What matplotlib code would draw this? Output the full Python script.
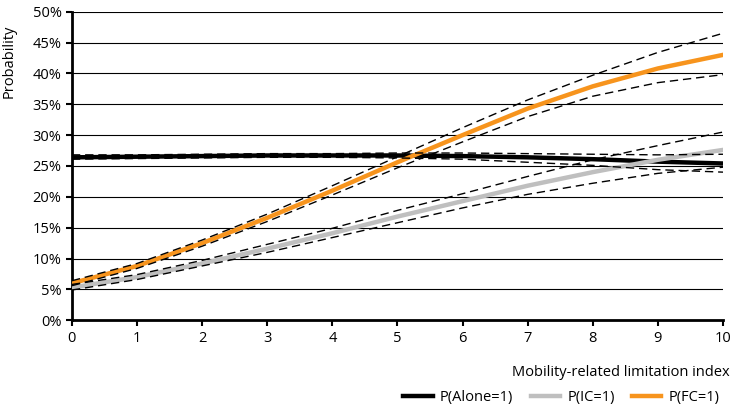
import matplotlib.pyplot as plt
from matplotlib.ticker import FuncFormatter

plt.rcParams['font.family'] = ['Open Sans', 'DejaVu Sans']

# mobility-related limitation index
x = [0, 1, 2, 3, 4, 5, 6, 7, 8, 9, 10]

# predicted probabilities (%) with confidence bounds
alone = [26.4, 26.5, 26.6, 26.7, 26.7, 26.7, 26.6, 26.4, 26.1, 25.7, 25.4]
alone_hi = [26.8, 26.8, 26.9, 27.0, 27.0, 27.1, 27.1, 27.0, 26.9, 26.8, 26.9]
alone_lo = [26.1, 26.2, 26.3, 26.4, 26.4, 26.3, 26.1, 25.6, 25.1, 24.4, 24.0]

ic = [5.3, 7.0, 9.2, 11.6, 14.1, 16.8, 19.3, 21.8, 24.0, 26.0, 27.6]
ic_hi = [5.8, 7.4, 9.7, 12.3, 14.9, 17.8, 20.5, 23.3, 26.0, 28.3, 30.5]
ic_lo = [4.9, 6.6, 8.8, 11.0, 13.4, 15.8, 18.2, 20.4, 22.2, 23.8, 24.8]

fc = [6.0, 8.8, 12.5, 16.6, 21.0, 25.6, 30.0, 34.3, 37.9, 40.8, 43.0]
fc_hi = [6.4, 9.2, 13.0, 17.2, 21.8, 26.5, 31.2, 35.7, 39.7, 43.4, 46.5]
fc_lo = [5.6, 8.4, 12.0, 16.0, 20.3, 24.7, 28.9, 33.0, 36.3, 38.5, 39.8]

fig, ax = plt.subplots(figsize=(7.34, 4.17), dpi=100)
fig.subplots_adjust(left=0.098, right=0.985, top=0.972, bottom=0.232)

ax.yaxis.grid(True, color='black', linewidth=0.8)
ax.set_axisbelow(True)

ax.plot(x, alone, color='black', linewidth=3.2, label='P(Alone=1)', zorder=3)
ax.plot(x, ic, color='#bfbfbf', linewidth=3.2, label='P(IC=1)', zorder=3)
ax.plot(x, fc, color='#f7941d', linewidth=3.2, label='P(FC=1)', zorder=3)
for band in (alone_hi, alone_lo, ic_hi, ic_lo, fc_hi, fc_lo):
    ax.plot(x, band, color='black', linewidth=1.0, linestyle=(0, (6, 3.5)), zorder=4)

ax.set_xlim(0, 10)
ax.set_ylim(0, 50)
ax.set_xticks(range(0, 11))
ax.set_yticks(range(0, 51, 5))
ax.yaxis.set_major_formatter(FuncFormatter(lambda v, p: f'{v:.0f}%'))
ax.tick_params(axis='both', labelsize=10.5, width=1.5, length=4, color='black')
for s in ('top', 'right'):
    ax.spines[s].set_visible(False)
for s in ('left', 'bottom'):
    ax.spines[s].set_linewidth(2)

ax.set_ylabel('Probability', fontsize=10.5)
ax.yaxis.set_label_coords(-0.085, 0.84)
ax.set_xlabel('Mobility-related limitation index', fontsize=10.5, ha='right')
ax.xaxis.set_label_coords(1.01, -0.145)

ax.legend(loc='center right', bbox_to_anchor=(1.015, -0.25), ncol=3, frameon=False,
          fontsize=10.5, handlelength=2.0, columnspacing=1.2, handletextpad=0.5)

fig.savefig('out.png')
